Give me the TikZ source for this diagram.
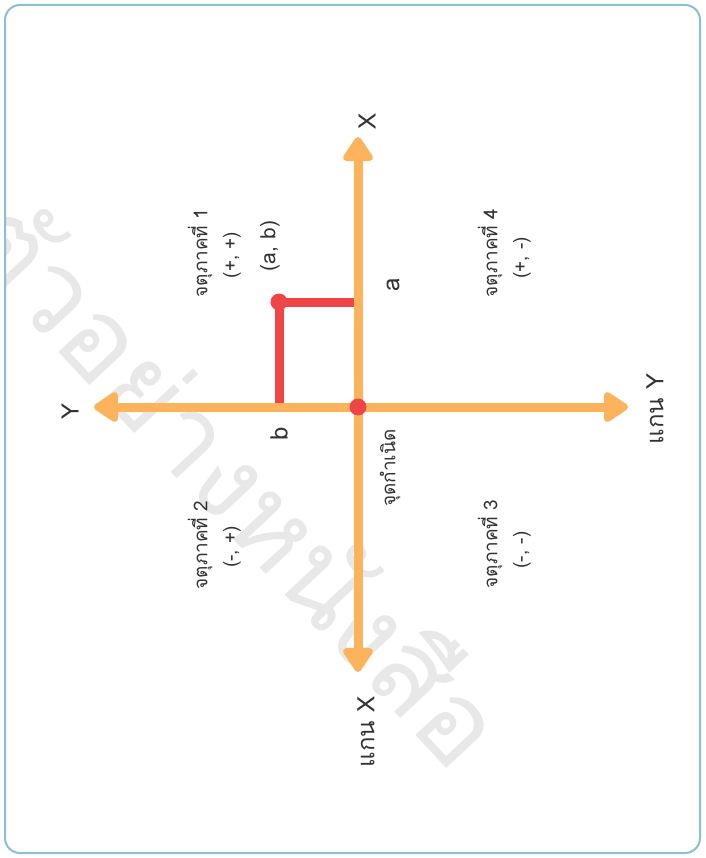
\documentclass[tikz,border=0pt]{standalone}
\usepackage{fontspec}
\newfontfamily\thai[Script=Thai]{Loma}
\usetikzlibrary{arrows.meta}
\definecolor{axisorange}{HTML}{FDB35B}
\definecolor{pointred}{HTML}{EF4546}
\definecolor{framecol}{HTML}{8BBFD3}
\definecolor{txt}{HTML}{333333}
\definecolor{wmark}{HTML}{E8E8E8}
\begin{document}
\begin{tikzpicture}[x=1pt,y=-1pt,
  axis/.style={draw=axisorange,line width=9pt,
    {Triangle[width=34pt,length=27pt,round]}-{Triangle[width=34pt,length=27pt,round]}},
  redline/.style={draw=pointred,line width=9pt},
  lbl/.style={text=txt,font=\thai\fontsize{19}{21}\selectfont,rotate=90,inner sep=0pt},
  biglbl/.style={text=txt,font=\thai\fontsize{24}{26}\selectfont,rotate=90,inner sep=0pt},
  ablbl/.style={text=txt,font=\thai\fontsize{21}{23}\selectfont,rotate=90,inner sep=0pt}]
\useasboundingbox (0,0) rectangle (705,858);
\fill[white] (0,0) rectangle (705,858);
% watermark
\begin{scope}
\clip[rounded corners=15pt] (5,5) rectangle (700,853);
\node[text=wmark,font=\thai\fontsize{112}{118}\selectfont,rotate=-47,inner sep=0pt] (wm) at (240,478) {ตัวอย่างหนังสือ};
\end{scope}
\draw[framecol,line width=2pt,rounded corners=15pt] (5,5) rectangle (700,853);
% coordinates
\coordinate (xtop) at (358,137);
\coordinate (xbot) at (358,672);
\coordinate (yleft) at (94,407);
\coordinate (yright) at (628,407);
\coordinate (O) at (358,407);
\coordinate (P) at (279,302);
\coordinate (Pa) at (358,302);
\coordinate (Pb) at (279,407);
% red projection lines
\draw[redline] (Pa) -- (P) -- (Pb);
% axes
\draw[axis] (xbot) -- (xtop);
\draw[axis] (yleft) -- (yright);
\fill[pointred] (P) circle (8.5pt);
\fill[pointred] (O) circle (8.5pt);
% labels
\node[biglbl] (lx) at (367,121) {X};
\node[biglbl] (ly) at (70,411) {Y};
\node[biglbl] (lxa) at (366,732) {แกน X};
\node[biglbl] (lya) at (655,409) {แกน Y};
\node[biglbl] (la) at (393,285) {a};
\node[biglbl] (lb) at (279,434) {b};
\node[ablbl] (lp) at (270,246) {(a, b)};
\node[lbl] (q1) at (200,253) {จตุภาคที่ 1};
\node[lbl] (q1s) at (232,255) {(+, +)};
\node[lbl] (q4) at (490,253) {จตุภาคที่ 4};
\node[lbl] (q4s) at (522,258) {(+, -)};
\node[lbl] (q2) at (200,545) {จตุภาคที่ 2};
\node[lbl] (q2s) at (232,547) {(-, +)};
\node[lbl] (q3) at (490,544) {จตุภาคที่ 3};
\node[lbl] (q3s) at (522,550) {(-, -)};
\node[lbl] (org) at (390,468) {จุดกำเนิด};
\end{tikzpicture}
\end{document}
